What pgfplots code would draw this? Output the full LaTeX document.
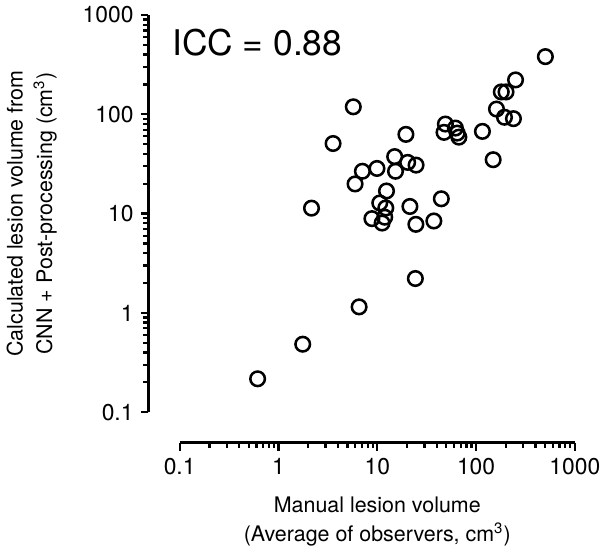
\documentclass[border=0pt]{standalone}
\usepackage{pgfplots}
\pgfplotsset{compat=1.18}
\usepackage{fontspec}
\setmainfont{TeX Gyre Heros}

\begin{document}
\begin{tikzpicture}
% data
\begin{axis}[
    xmode=log, ymode=log,
    scale only axis,
    width=195.5pt, height=196.5pt,
    xmin=0.1, xmax=1000, ymin=0.1, ymax=1000,
    hide axis, clip=false,
]
\addplot[only marks, mark=o, mark size=3.6pt, mark options={line width=1.25pt, black}] coordinates {
    (503,381) (251,222) (180,168) (201,168) (161,113) (194,93.4) (239,90.4)
    (5.72,119) (48.9,79.8) (61.8,72.7) (47.4,65.8) (64.4,64.7) (67,58.9)
    (116,67.3) (19.5,62.8) (3.57,50.8) (149,34.9) (15.0,37.5) (20.3,32.8)
    (24.7,30.8) (7.07,26.7) (9.93,28.5) (15.3,26.7) (5.96,19.9) (12.4,16.9)
    (2.16,11.35) (10.6,12.8) (12.2,11.4) (21.4,11.8) (44.5,14.1)
    (8.83,8.9) (11.2,8.04) (11.9,9.2) (24.6,7.8) (37.4,8.43)
    (24.3,2.22) (6.55,1.15) (1.76,0.484) (0.615,0.217)
};
\node[anchor=west, font=\fontsize{17.5}{20}\selectfont, inner sep=0pt]
    at (rel axis cs:-0.02,0.931) {ICC = 0.88};
\end{axis}
% detached x axis: box as tall as the ticks, ticks hang from its top edge
\begin{axis}[
    at={(0pt,-15pt)}, anchor=north west,
    xmode=log,
    scale only axis,
    width=195.5pt, height=4.4pt,
    xmin=0.1, xmax=1000, ymin=0, ymax=1,
    hide y axis, clip=false,
    axis line style={draw=none},
    xtick pos=right, xticklabel pos=left,
    tick align=inside,
    tick style={line width=1.1pt, black},
    major tick length=4.4pt,
    minor tick length=2.8pt,
    xtick={0.1,1,10,100,1000},
    xticklabels={0.1,1,10,100,1000},
    tick label style={font=\fontsize{11.3}{13}\selectfont},
    xlabel={Manual lesion volume\\(Average of observers, cm\textsuperscript{3})},
    label style={font=\fontsize{10.6}{14.5}\selectfont, align=center},
    xlabel style={yshift=-4pt},
]
\addplot[line width=1.4pt, black] coordinates {(0.1,1) (1000,1)};
\end{axis}
% detached y axis: box as wide as the ticks, ticks point left from its right edge
\begin{axis}[
    at={(-15.5pt,0pt)}, anchor=south east,
    ymode=log,
    scale only axis,
    width=3.8pt, height=196.5pt,
    xmin=0, xmax=1, ymin=0.1, ymax=1000,
    hide x axis, clip=false,
    axis line style={draw=none},
    ytick pos=right, yticklabel pos=left,
    tick align=inside,
    tick style={line width=1.1pt, black},
    major tick length=3.8pt,
    minor tick length=2.6pt,
    ytick={0.1,1,10,100,1000},
    yticklabels={0.1,1,10,100,1000},
    tick label style={font=\fontsize{11.3}{13}\selectfont},
    ylabel={Calculated lesion volume from\\CNN + Post-processing (cm\textsuperscript{3})},
    label style={font=\fontsize{10.6}{14.5}\selectfont, align=center},
    ylabel style={yshift=6pt},
]
\addplot[line width=1.4pt, black] coordinates {(1,0.1) (1,1000)};
\end{axis}
\end{tikzpicture}
\end{document}
